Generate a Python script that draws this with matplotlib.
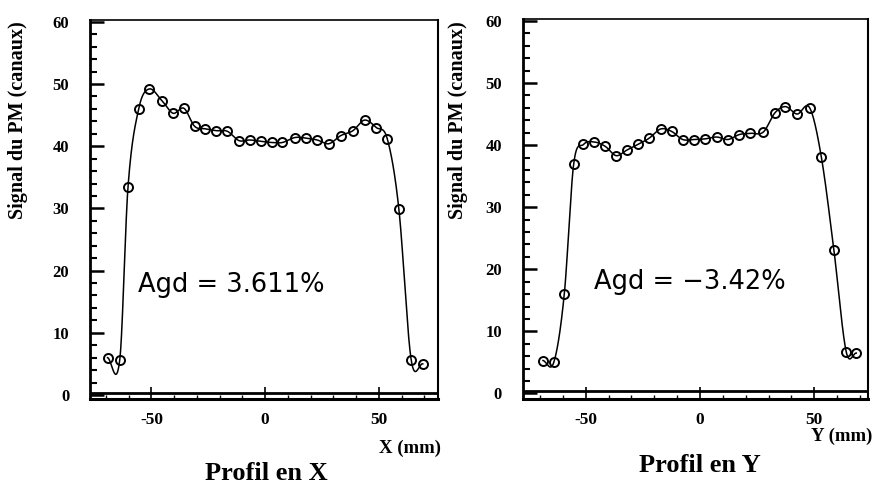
import numpy as np
import matplotlib
matplotlib.use("Agg")
from matplotlib import pyplot as plt
from matplotlib.ticker import MultipleLocator

plt.rcParams['font.family'] = ['Liberation Serif', 'DejaVu Serif']
plt.rcParams['axes.unicode_minus'] = False

# profile X
x_pos_x = [-69.3, -63.9, -60.3, -55.6, -51.1, -45.3, -40.5, -35.7, -31.0, -26.3,
           -21.4, -16.6, -11.5, -6.8, -2.0, 2.9, 7.6, 13.1, 18.1, 22.9,
           28.0, 33.2, 38.6, 43.7, 48.9, 53.7, 58.8, 64.2, 69.3]
signal_x = [6.0, 5.7, 33.4, 46.0, 49.2, 47.3, 45.3, 46.1, 43.2, 42.8,
            42.5, 42.4, 40.9, 41.0, 40.8, 40.6, 40.6, 41.4, 41.3, 41.0,
            40.4, 41.7, 42.5, 44.2, 43.0, 41.2, 29.9, 5.7, 5.0]

# profile Y
x_pos_y = [-68.7, -64.0, -59.4, -55.3, -51.0, -46.3, -41.5, -36.7, -32.0, -27.2,
           -22.3, -17.2, -12.4, -7.6, -2.6, 2.2, 7.3, 12.2, 17.2, 22.1,
           27.7, 32.8, 37.4, 42.5, 48.0, 53.1, 58.6, 64.0, 68.4]
signal_y = [5.3, 5.0, 16.0, 36.9, 40.1, 40.5, 39.8, 38.3, 39.2, 40.1,
            41.1, 42.6, 42.2, 40.9, 40.9, 41.0, 41.3, 40.9, 41.7, 41.9,
            42.1, 45.2, 46.2, 45.0, 46.0, 38.1, 23.1, 6.7, 6.5]


def smooth_curve(x, y, n=40):
    # cubic hermite through the points, catmull-rom style tangents
    x = np.asarray(x, float)
    y = np.asarray(y, float)
    m = np.zeros_like(y)
    m[1:-1] = (y[2:] - y[:-2]) / (x[2:] - x[:-2])
    m[0] = (y[1] - y[0]) / (x[1] - x[0])
    m[-1] = (y[-1] - y[-2]) / (x[-1] - x[-2])
    xs_all, ys_all = [], []
    for i in range(len(x) - 1):
        h = x[i + 1] - x[i]
        t = np.linspace(0, 1, n)
        h00 = 2 * t**3 - 3 * t**2 + 1
        h10 = t**3 - 2 * t**2 + t
        h01 = -2 * t**3 + 3 * t**2
        h11 = t**3 - t**2
        xs_all.append(x[i] + t * h)
        ys_all.append(h00 * y[i] + h10 * h * m[i] + h01 * y[i + 1] + h11 * h * m[i + 1])
    return np.concatenate(xs_all), np.concatenate(ys_all)


def draw_profile(ax, xv, yv, xlim, ylim, agd_text, agd_pos, lab_x):
    xs, ys = smooth_curve(xv, yv)
    ax.plot(xs, ys, color='black', lw=1.1)
    ax.plot(xv, yv, 'o', mfc='none', mec='black', mew=1.4, ms=6.5)

    ax.set_xlim(*xlim)
    ax.set_ylim(*ylim)

    # double bottom line like on the plotter output
    ax.axhline(0.35, color='black', lw=2)

    ax.xaxis.set_major_locator(MultipleLocator(50))
    ax.xaxis.set_minor_locator(MultipleLocator(10))
    ax.yaxis.set_major_locator(MultipleLocator(10))
    ax.yaxis.set_minor_locator(MultipleLocator(2))
    ax.tick_params(axis='y', which='major', direction='in', length=10, width=1.8,
                   pad=15, labelsize=12)
    ax.tick_params(axis='y', which='minor', direction='in', length=5, width=1.5)
    ax.tick_params(axis='x', which='major', direction='in', length=9, width=1.2,
                   pad=9, labelsize=12.5)
    ax.tick_params(axis='x', which='minor', direction='in', length=3, width=1)
    for lab in ax.get_xticklabels() + ax.get_yticklabels():
        lab.set_fontweight('bold')

    ax.spines['left'].set_linewidth(2)
    ax.spines['bottom'].set_linewidth(2.2)
    ax.spines['top'].set_linewidth(1.2)
    ax.spines['right'].set_linewidth(1.5)

    ax.set_ylabel('Signal du PM (canaux)', fontsize=14.5, fontweight='bold')
    ax.yaxis.label.set_verticalalignment('center')
    ax.yaxis.set_label_coords(lab_x, 0.735)

    ax.text(agd_pos[0], agd_pos[1], agd_text, family=['DejaVu Sans'],
            fontsize=18.5, ha='left', va='baseline')


fig = plt.figure(figsize=(8.73, 4.84), dpi=100)
ax1 = fig.add_axes([0.1031, 0.1756, 0.3986, 0.7831])
ax2 = fig.add_axes([0.599, 0.1756, 0.3952, 0.785])

draw_profile(ax1, x_pos_x, signal_x, (-77, 76), (-0.65, 60.3), 'Agd = 3.611%', (-56, 16.5), -0.207)
draw_profile(ax2, x_pos_y, signal_y, (-77.5, 73.5), (-0.9, 60.3), 'Agd = \u22123.42%', (-46.5, 16.9), -0.188)

fig.text(441 / 873, 1 - 448 / 484, 'X (mm)', ha='right', va='center', fontsize=13.5, fontweight='bold')
fig.text(872 / 873, 1 - 436 / 484, 'Y (mm)', ha='right', va='center', fontsize=13.5, fontweight='bold')
fig.text(266 / 873, 1 - 473 / 484, 'Profil en X', ha='center', va='center', fontsize=19, fontweight='bold')
fig.text(700 / 873, 1 - 466 / 484, 'Profil en Y', ha='center', va='center', fontsize=19, fontweight='bold')

plt.savefig('out.png', dpi=100)
